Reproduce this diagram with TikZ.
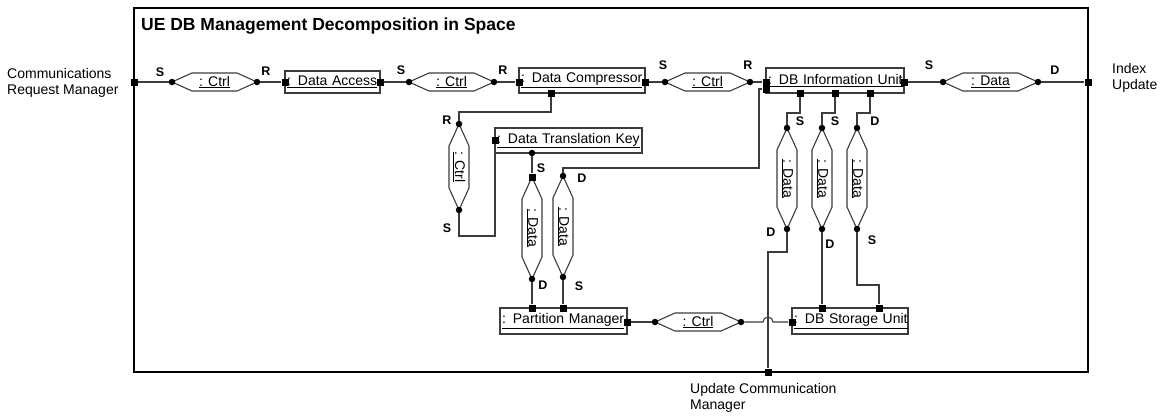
\documentclass[tikz,border=0pt]{standalone}
\usepackage{fontspec}
\setmainfont{Liberation Sans}
\usetikzlibrary{calc}

\definecolor{wiregray}{HTML}{3C3C3C}

% horizontal connector: name, x left, x right, y, label
\newcommand{\hconn}[5]{%
  \draw[wire] (#2,#4) -- (#2+20,#4-9) -- (#3-20,#4-9) -- (#3,#4)
    -- (#3-20,#4+9) -- (#2+20,#4+9) -- cycle;
  \node[dot] (#1a) at (#2,#4) {};
  \node[dot] (#1b) at (#3,#4) {};
  \node[lbl] (#1) at (#2/2+#3/2,#4) {\underline{#5}};
}
% vertical connector: name, x, y top, y bottom, label, top end
\newcommand{\vconn}[6]{%
  \draw[wire] (#2,#3) -- (#2+10,#3+22) -- (#2+10,#4-22) -- (#2,#4)
    -- (#2-10,#4-22) -- (#2-10,#3+22) -- cycle;
  \node[#6] (#1a) at (#2,#3) {};
  \node[dot] (#1b) at (#2,#4) {};
  \node[lbl, rotate=-90] (#1) at (#2,#3/2+#4/2) {\underline{#5}};
}

\begin{document}
\begin{tikzpicture}[x=1pt, y=-1pt,
    wire/.style={draw=wiregray, line width=1.1pt},
    dot/.style={circle, fill=black, inner sep=0pt, minimum size=6.5pt},
    port/.style={rectangle, fill=black, inner sep=0pt, minimum size=7pt},
    part/.style={rectangle, draw=wiregray, line width=1.1pt, inner xsep=2pt,
                 inner ysep=0pt, align=left, font=\fontsize{14}{16}\selectfont},
    lbl/.style={inner sep=1pt, font=\fontsize{14}{16}\selectfont},
    endlbl/.style={inner sep=0pt, font=\bfseries\fontsize{12.5}{14}\selectfont},
    extlbl/.style={anchor=west, align=left, inner sep=0pt,
                   font=\fontsize{14}{16.5}\selectfont}
  ]
  \useasboundingbox (0,0) rectangle (1162,416);

  % enclosing part
  \node[draw, line width=1.8pt, minimum width=954pt, minimum height=364pt] (frame) at (611,190) {};
  \node[anchor=west, inner sep=0pt, font=\bfseries\fontsize{17.5}{20}\selectfont] (title)
    at (141,26) {UE DB Management Decomposition in Space};

  % parts
  \node[part, text width=91pt, minimum height=22pt] (da) at (332.5,82) {\underline{: Data Access}};
  \node[part, text width=122pt, minimum height=25pt] (dc) at (582,80.5) {\underline{: Data Compressor}};
  \node[part, text width=134pt, minimum height=25pt] (diu) at (835,80.5) {\underline{: DB Information Unit}};
  \node[part, text width=143pt, minimum height=25pt] (dtk) at (568.5,140.5) {\underline{: Data Translation Key}};
  \node[part, text width=123pt, minimum height=26pt] (pm) at (563.5,321) {\underline{: Partition Manager}};
  \node[part, text width=112pt, minimum height=26pt] (dsu) at (850,321) {\underline{: DB Storage Unit}};

  % connectors
  \hconn{ca}{172}{257}{82}{: Ctrl}
  \hconn{cb}{409}{494}{82}{: Ctrl}
  \hconn{cc}{665}{750}{82}{: Ctrl}
  \hconn{cd}{943}{1038}{82}{: Data}
  \hconn{ce}{655}{741}{322}{: Ctrl}
  \vconn{va}{459}{124}{210}{: Ctrl}{dot}
  \vconn{vb}{532}{177}{279}{: Data}{port}
  \vconn{vc}{563}{176}{277}{: Data}{dot}
  \vconn{vd}{787}{128}{229}{: Data}{dot}
  \vconn{ve}{822}{128}{229}{: Data}{dot}
  \vconn{vf}{857}{128}{229}{: Data}{dot}

  % ports
  \node[port] (pcrm) at (134,82) {};
  \node[port] (piu) at (1088,82) {};
  \node[port] (pucm) at (768,372) {};
  \node[port] (dal) at (285,82) {};
  \node[port] (dar) at (380,82) {};
  \node[port] (dcl) at (519,82) {};
  \node[port] (dcr) at (645,82) {};
  \node[port] (dcb) at (551,93) {};
  \node[port] (diul) at (766,82) {};
  \node[port] (diul2) at (766,89) {};
  \node[port] (diur) at (904,82) {};
  \node[port] (diub1) at (800,93) {};
  \node[port] (diub2) at (835,93) {};
  \node[port] (diub3) at (870,93) {};
  \node[port] (dtkl) at (495,140) {};
  \node[dot] (dtkb) at (532,153) {};
  \node[port] (pmt1) at (532,308) {};
  \node[port] (pmt2) at (563,308) {};
  \node[port] (pmr) at (627,322) {};
  \node[port] (dsul) at (792,322) {};
  \node[port] (dsut1) at (822,308) {};
  \node[port] (dsut2) at (879,308) {};

  % wires
  \draw[wire] (pcrm) -- (caa);
  \draw[wire] (cab) -- (dal);
  \draw[wire] (dar) -- (cba);
  \draw[wire] (cbb) -- (dcl);
  \draw[wire] (dcr) -- (cca);
  \draw[wire] (ccb) -- (diul);
  \draw[wire] (diur) -- (cda);
  \draw[wire] (cdb) -- (piu);
  \draw[wire] (dcb) |- (459,112) -- (vaa);
  \draw[wire] (vab) |- (495,236) -- (dtkl);
  \draw[wire] (dtkb) -- (vba);
  \draw[wire] (diul2) -- (759,89) -- (759,168) -| (vca);
  \draw[wire] (vbb) -- (pmt1);
  \draw[wire] (vcb) -- (pmt2);
  \draw[wire] (diub1) |- (787,113) -- (vda);
  \draw[wire] (diub2) |- (822,113) -- (vea);
  \draw[wire] (diub3) |- (857,113) -- (vfa);
  \draw[wire] (vdb) |- (768,252) -- (pucm);
  \draw[wire] (veb) -- (dsut1);
  \draw[wire] (vfb) |- (879,285) -- (dsut2);
  \draw[wire] (pmr) -- (cea);
  \draw[wire] (ceb) -- (763,322) arc (180:360:5) -- (dsul);

  % end roles
  \node[endlbl] (caS) at (160,72) {S};
  \node[endlbl] (caR) at (266,71) {R};
  \node[endlbl] (cbS) at (401,70) {S};
  \node[endlbl] (cbR) at (503,70) {R};
  \node[endlbl] (ccS) at (663,65) {S};
  \node[endlbl] (ccR) at (748,65) {R};
  \node[endlbl] (cdS) at (929,65) {S};
  \node[endlbl] (cdD) at (1055,70) {D};
  \node[endlbl] (vaR) at (447,120) {R};
  \node[endlbl] (vaS) at (447,228) {S};
  \node[endlbl] (vbS) at (541,168) {S};
  \node[endlbl] (vbD) at (543,285) {D};
  \node[endlbl] (vcD) at (582,178) {D};
  \node[endlbl] (vcS) at (579,286) {S};
  \node[endlbl] (vdS) at (800,121) {S};
  \node[endlbl] (vdD) at (771,232) {D};
  \node[endlbl] (veS) at (835,121) {S};
  \node[endlbl] (veD) at (830,244) {D};
  \node[endlbl] (vfD) at (875,121) {D};
  \node[endlbl] (vfS) at (872,240) {S};

  % outer labels
  \node[extlbl] (crm) at (7,83) {Communications\\Request Manager};
  \node[extlbl] (iu) at (1112,78) {Index\\Update};
  \node[extlbl] (ucm) at (690,398) {Update Communication\\Manager};
\end{tikzpicture}
\end{document}
